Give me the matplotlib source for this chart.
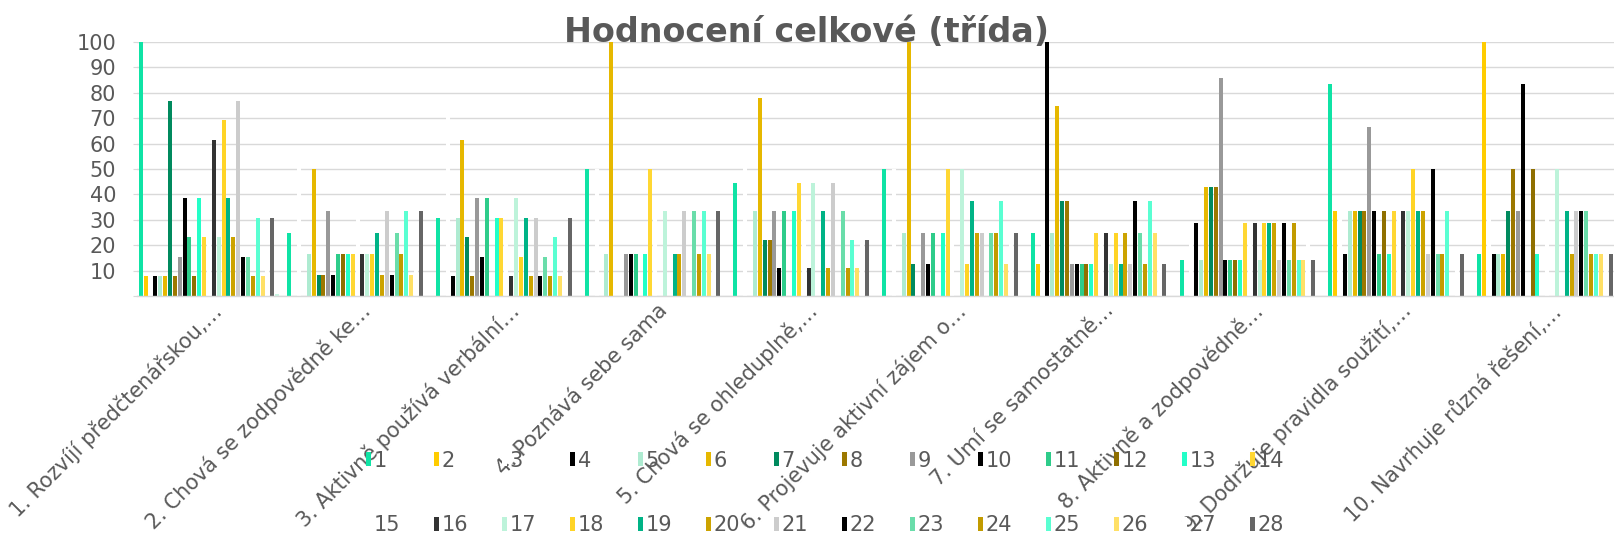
import matplotlib
matplotlib.use("Agg")
import matplotlib.pyplot as plt
import numpy as np

plt.rcParams['font.family'] = ['DejaVu Sans']

title = "Hodnocení celkové (třída)"
categories = [
    "1. Rozvíjí předčtenářskou,…",
    "2. Chová se zodpovědně ke…",
    "3. Aktivně používá verbální…",
    "4. Poznává sebe sama",
    "5. Chová se ohleduplně,…",
    "6. Projevuje aktivní zájem o…",
    "7. Umí se samostatně…",
    "8. Aktivně a zodpovědně…",
    "9. Dodržuje pravidla soužití,…",
    "10. Navrhuje různá řešení,…",
]

# one list per series (value per category, in %)
s01 = [100, 25, 30.8, 50, 44.4, 50, 25, 14.3, 83.3, 16.7]
s02 = [7.7, 0, 0, 0, 0, 0, 12.5, 0, 33.3, 100]
s03 = [7.7, 58.3, 76.9, 50, 55.6, 50, 25, 28.6, 33.3, 33.3]
s04 = [7.7, 0, 7.7, 0, 0, 0, 100, 28.6, 16.7, 16.7]
s05 = [7.7, 16.7, 30.8, 16.7, 33.3, 25, 25, 14.3, 33.3, 16.7]
s06 = [7.7, 50, 61.5, 100, 77.8, 100, 75, 42.9, 33.3, 16.7]
s07 = [76.9, 8.3, 23.1, 0, 22.2, 12.5, 37.5, 42.9, 33.3, 33.3]
s08 = [7.7, 8.3, 7.7, 0, 22.2, 0, 37.5, 42.9, 33.3, 50]
s09 = [15.4, 33.3, 38.5, 16.7, 33.3, 25, 12.5, 85.7, 66.7, 33.3]
s10 = [38.5, 8.3, 15.4, 16.7, 11.1, 12.5, 12.5, 14.3, 33.3, 83.3]
s11 = [23.1, 16.7, 38.5, 16.7, 33.3, 25, 12.5, 14.3, 16.7, 0]
s12 = [7.7, 16.7, 0, 0, 0, 0, 12.5, 14.3, 33.3, 50]
s13 = [38.5, 16.7, 30.8, 16.7, 33.3, 25, 12.5, 14.3, 16.7, 16.7]
s14 = [23.1, 16.7, 30.8, 50, 44.4, 50, 25, 28.6, 33.3, 0]
s15 = [23.1, 33.3, 23.1, 33.3, 33.3, 25, 25, 28.6, 33.3, 33.3]
s16 = [61.5, 16.7, 7.7, 0, 11.1, 0, 25, 28.6, 33.3, 0]
s17 = [23.1, 16.7, 38.5, 33.3, 44.4, 50, 12.5, 14.3, 33.3, 50]
s18 = [69.2, 16.7, 15.4, 0, 0, 12.5, 25, 28.6, 50, 0]
s19 = [38.5, 25, 30.8, 16.7, 33.3, 37.5, 12.5, 28.6, 33.3, 33.3]
s20 = [23.1, 8.3, 7.7, 16.7, 11.1, 25, 25, 28.6, 33.3, 16.7]
s21 = [76.9, 33.3, 30.8, 33.3, 44.4, 25, 12.5, 14.3, 16.7, 33.3]
s22 = [15.4, 8.3, 7.7, 0, 0, 0, 37.5, 28.6, 50, 33.3]
s23 = [15.4, 25, 15.4, 33.3, 33.3, 25, 25, 14.3, 16.7, 33.3]
s24 = [7.7, 16.7, 7.7, 16.7, 11.1, 25, 12.5, 28.6, 16.7, 16.7]
s25 = [30.8, 33.3, 23.1, 33.3, 22.2, 37.5, 37.5, 14.3, 33.3, 16.7]
s26 = [7.7, 8.3, 7.7, 16.7, 11.1, 12.5, 25, 14.3, 0, 16.7]
s27 = [15.4, 16.7, 15.4, 16.7, 22.2, 25, 12.5, 28.6, 16.7, 16.7]
s28 = [30.8, 33.3, 30.8, 33.3, 22.2, 25, 12.5, 14.3, 16.7, 16.7]
s29 = [0.7, 0, 0, 0, 0, 0, 0, 0, 0, 0]
s30 = [0, 0, 0, 0, 0, 0, 0, 0, 0, 0]

series = [s01, s02, s03, s04, s05, s06, s07, s08, s09, s10,
          s11, s12, s13, s14, s15, s16, s17, s18, s19, s20,
          s21, s22, s23, s24, s25, s26, s27, s28, s29, s30]
series_names = [str(i) for i in range(1, 31)]
colors = ["#0FE3A5", "#FFCC00", "#FFFFFF", "#000000", "#AEEBD1", "#E6B800",
          "#008A5E", "#9C7800", "#999999", "#000000", "#2ECC8A", "#8F6F00",
          "#23FFC8", "#FFD733", "#FFFFFF", "#333333", "#BDF3DA", "#FFD426",
          "#00B386", "#CCA300", "#CCCCCC", "#000000", "#6ADDAA", "#C29B00",
          "#5AFFD2", "#FFE066", "#FFFFFF", "#666666", "#C9F5E2", "#F0CC4D"]

W, H = 1614, 539
fig = plt.figure(figsize=(W / 100, H / 100), dpi=100)
ax = fig.add_axes([137 / W, 1 - 296 / H, (1624 - 137) / W, (296 - 42) / H])

n = len(series)
slot = 1 / (n + 0.5)
x = np.arange(len(categories))
handles = []
for i, (vals, name, col) in enumerate(zip(series, series_names, colors)):
    off = (i + 1 - (n + 1) / 2) * slot
    b = ax.bar(x + off, vals, width=slot * 0.82, color=col, label=name, zorder=2)
    handles.append(b)

ax.set_xlim(-0.5, len(categories) - 0.5)
ax.set_ylim(0, 100)
ax.set_axisbelow(True)
ax.yaxis.grid(True, color="#D9D9D9", linewidth=1.0)
for sp in ["left", "right", "top"]:
    ax.spines[sp].set_visible(False)
ax.spines["bottom"].set_color("#D9D9D9")
ax.spines["bottom"].set_linewidth(1.0)

yt = np.arange(0, 101, 10)
ax.set_yticks(yt)
ax.set_yticklabels([("" if v == 0 else str(v)) for v in yt])
ax.tick_params(axis="y", length=3, color="#D9D9D9", pad=12, labelsize=15,
               labelcolor="#595959")
ax.set_xticks(x)
ax.set_xticklabels(categories, rotation=45, ha="right", va="top",
                   rotation_mode="anchor", fontsize=15, color="#595959")
ax.tick_params(axis="x", length=0, pad=3)

fig.text(0.5, 1 - 33 / H, title, ha="center", va="center", fontsize=24,
         fontweight="bold", color="#595959")

# legend: first 28 series, two rows of 14
leg_h = handles[:28]
leg_l = series_names[:28]
order = []
for c in range(14):
    order += [c, c + 14]
fig.legend([leg_h[k] for k in order], [leg_l[k] for k in order], ncol=14,
           loc="center", bbox_to_anchor=(825 / W, 1 - 493 / H), frameon=False,
           fontsize=15, labelcolor="#595959", handlelength=0.25,
           handleheight=0.65, handletextpad=0.1, columnspacing=1.64,
           labelspacing=2.15)

fig.savefig("out.png", dpi=100)
